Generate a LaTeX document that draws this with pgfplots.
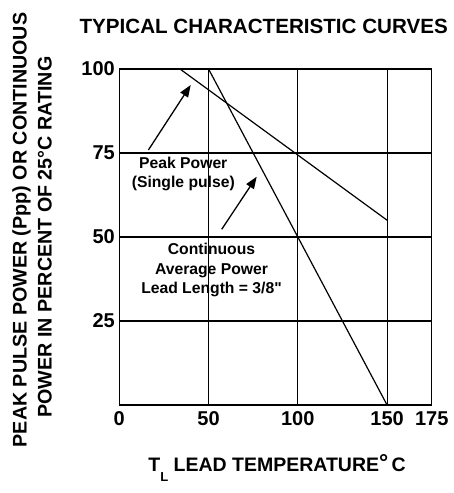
\documentclass[border=0pt]{standalone}
\usepackage{pgfplots}
\pgfplotsset{compat=1.18}
\usepackage{fontspec}
\setmainfont{Liberation Sans}
\newfontfamily\plainfont{Liberation Sans}
\usetikzlibrary{arrows.meta}
\begin{document}
\begin{tikzpicture}
\useasboundingbox (-119.3pt,-88pt) rectangle (333.7pt,405pt);
\begin{axis}[
  at={(0pt,0pt)}, anchor=south west,
  scale only axis, width=312.4pt, height=336pt,
  xmin=0, xmax=175, ymin=0, ymax=100,
  xtick={0,50,100,150,175}, ytick={25,50,75,100},
  grid=major, grid style={black, line width=1.1pt},
  major tick length=0pt,
  axis line style={line width=1.4pt},
  tick label style={font=\bfseries\fontsize{20}{23}\selectfont},
  /pgf/number format/assume math mode=true,
  xticklabel style={yshift=-3pt},
  yticklabel style={xshift=-1pt},
  clip=false,
]
\addplot[black, line width=1.2pt] coordinates {(34,100) (150,55)};
\addplot[black, line width=1.2pt] coordinates {(50,100) (150,0)};
\end{axis}
\node[font=\bfseries\fontsize{20.6}{24}\selectfont] at (144.4pt,379pt) {TYPICAL CHARACTERISTIC CURVES};
\node[rotate=90, anchor=base, font=\bfseries\fontsize{19.7}{23}\selectfont, inner sep=0pt] at (-92.6pt,175pt) {PEAK PULSE POWER (Ppp) OR CONTINUOUS};
\node[rotate=90, anchor=base, font=\bfseries\fontsize{19.7}{23}\selectfont, inner sep=0pt] at (-67.6pt,168pt) {POWER IN PERCENT OF 25°C RATING};
\node[anchor=base, font=\bfseries\fontsize{19.5}{22}\selectfont, inner sep=0pt] at (157.7pt,-66.7pt) {T\raisebox{-9.5pt}{\fontsize{13}{13}\selectfont L} LEAD TEMPERATURE\raisebox{0.08em}{\fontsize{23}{23}\selectfont °}\,C};
\begin{scope}[font=\bfseries\fontsize{15.7}{19}\selectfont]
\node[anchor=base, inner sep=0pt] at (64pt,236.7pt) {Peak Power};
\node[anchor=base, inner sep=0pt] at (64pt,217.7pt) {(Single pulse)};
\node[anchor=base, inner sep=0pt] at (92.2pt,150pt) {Continuous};
\node[anchor=base, inner sep=0pt] at (92.2pt,130pt) {Average Power};
\node[anchor=base, inner sep=0pt] at (92.2pt,111.7pt) {Lead Length = 3/8{\plainfont\bfseries "}};
\end{scope}
\draw[line width=1.3pt, -{Triangle[length=12pt,width=9pt]}] (29.1pt,255pt) -- (71.4pt,320pt);
\draw[line width=1.3pt, -{Triangle[length=12pt,width=9pt]}] (102.4pt,175.7pt) -- (137.4pt,228.3pt);
\end{tikzpicture}
\end{document}
